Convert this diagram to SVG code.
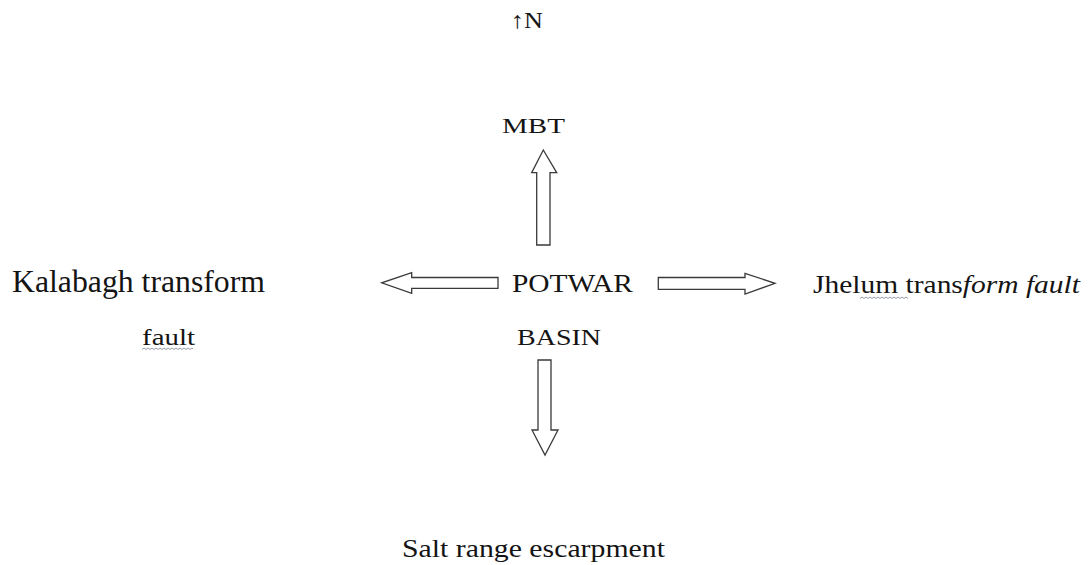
<svg xmlns="http://www.w3.org/2000/svg" width="1090" height="565" viewBox="0 0 1090 565">
<style>
.t{font-family:"Liberation Serif","Times New Roman",serif;fill:#141414}
.arr{fill:#fff;stroke:#3a3a3a;stroke-width:1.3;stroke-linejoin:miter}
.sq{fill:none;stroke:#8a8f9a;stroke-width:0.9}
</style>
<rect width="1090" height="565" fill="#fff"/>
<g id="north"><text class="t" x="511" y="28" font-size="23" textLength="32" lengthAdjust="spacingAndGlyphs">↑N</text></g>
<g id="mbt"><text class="t" x="502" y="133" font-size="22" textLength="63" lengthAdjust="spacingAndGlyphs">MBT</text></g>
<g id="potwar"><text class="t" x="512" y="292" font-size="25" textLength="121" lengthAdjust="spacingAndGlyphs">POTWAR</text></g>
<g id="basin"><text class="t" x="517" y="345" font-size="23" textLength="84" lengthAdjust="spacingAndGlyphs">BASIN</text></g>
<g id="kalabagh">
<text class="t" x="12" y="292" font-size="31" textLength="253" lengthAdjust="spacingAndGlyphs">Kalabagh transform</text>
<text class="t" x="142" y="345" font-size="23" textLength="53" lengthAdjust="spacingAndGlyphs">fault</text>
<path class="sq" d="M142 349.5 l2 -1.5 l2 1.5 l2 -1.5 l2 1.5 l2 -1.5 l2 1.5 l2 -1.5 l2 1.5 l2 -1.5 l2 1.5 l2 -1.5 l2 1.5 l2 -1.5 l2 1.5 l2 -1.5 l2 1.5 l2 -1.5 l2 1.5 l2 -1.5 l2 1.5 l2 -1.5 l2 1.5 l2 -1.5 l2 1.5 l2 -1.5 l1 1"/>
</g>
<g id="jhelum">
<text class="t" x="813" y="293" font-size="25" textLength="267" lengthAdjust="spacingAndGlyphs">Jhelum trans<tspan font-style="italic">form fault</tspan></text>
<path class="sq" d="M860 298.5 l2 -1.5 l2 1.5 l2 -1.5 l2 1.5 l2 -1.5 l2 1.5 l2 -1.5 l2 1.5 l2 -1.5 l2 1.5 l2 -1.5 l2 1.5 l2 -1.5 l2 1.5 l2 -1.5 l2 1.5 l2 -1.5 l2 1.5 l2 -1.5 l2 1.5 l2 -1.5 l2 1.5 l2 -1.5 l2 1.5"/>
</g>
<g id="salt"><text class="t" x="402" y="557" font-size="25" textLength="263" lengthAdjust="spacingAndGlyphs">Salt range escarpment</text></g>
<g id="connectors">
<polygon class="arr" points="536.7,245 536.7,172.7 531.7,172.7 543.3,150 556.7,172.7 550,172.7 550,245"/>
<polygon class="arr" points="538,360 551,360 551,430 558,430 545,455 532,430 538,430"/>
<polygon class="arr" points="498,277.5 411.7,277.5 411.7,272.7 381.7,282.8 411.7,293.3 411.7,288.3 498,288.3"/>
<polygon class="arr" points="658.3,277.5 745,277.5 745,273.3 775,283.3 745,294 745,289.3 658.3,289.3"/>
</g>
</svg>
